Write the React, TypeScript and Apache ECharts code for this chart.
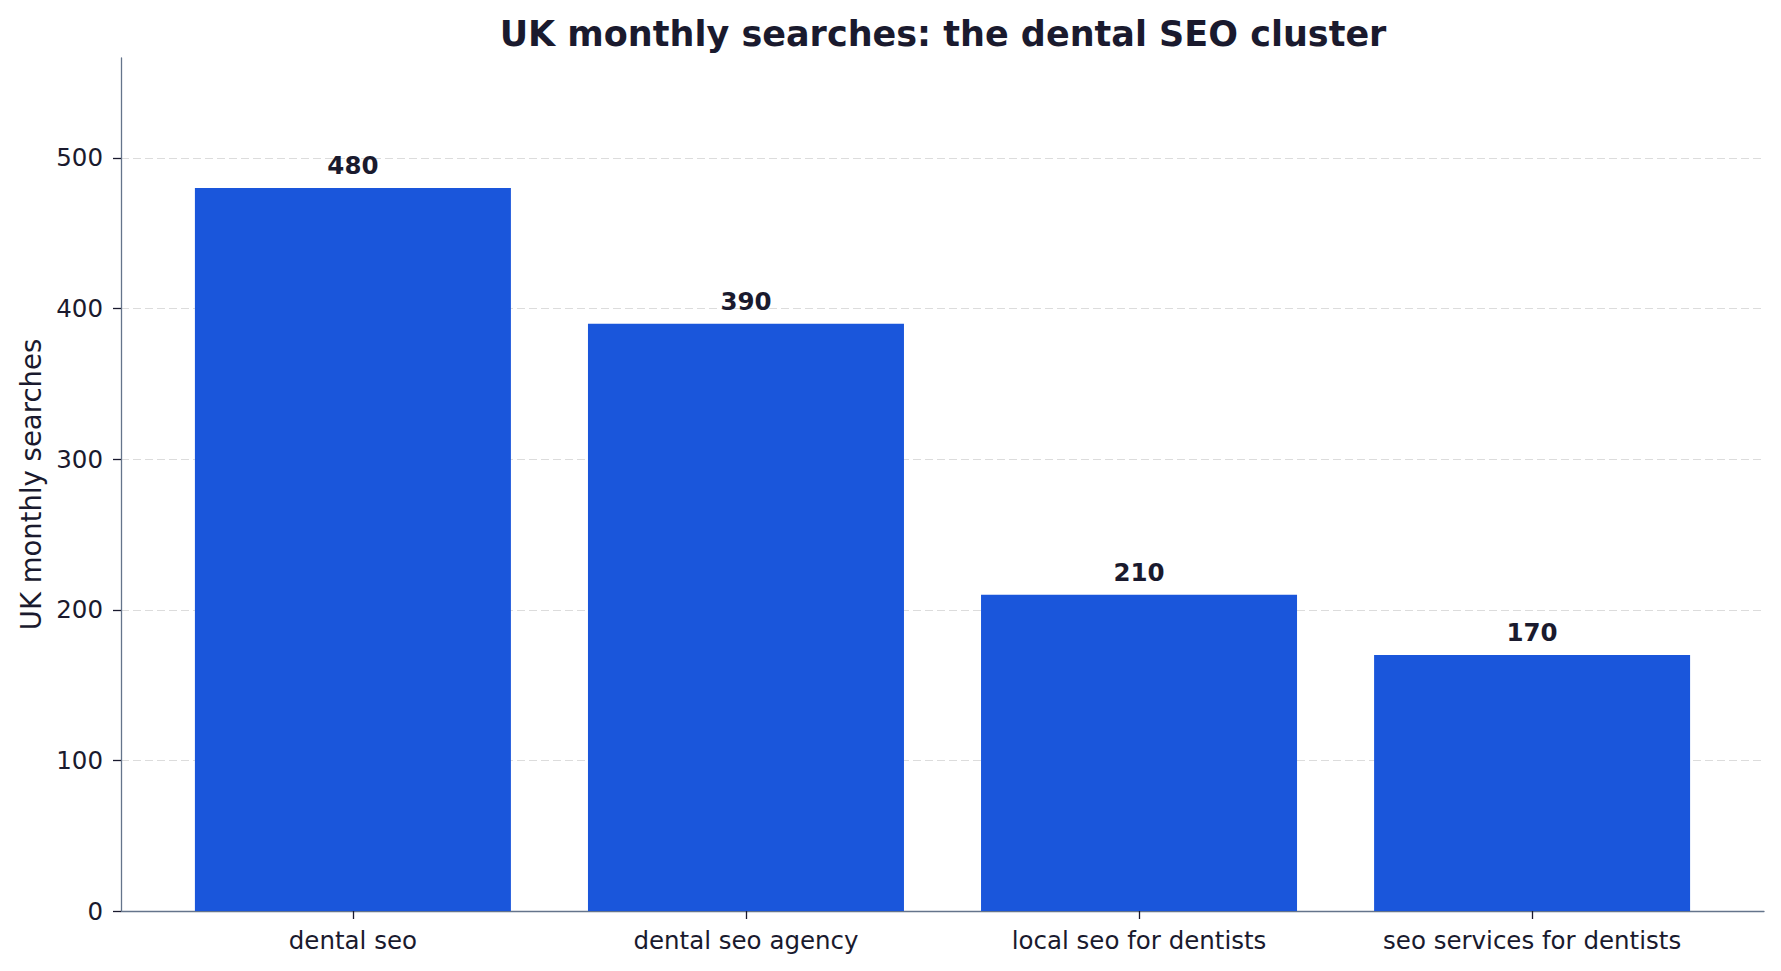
import React, { useEffect, useRef } from 'react';
import * as echarts from 'echarts';

// keyword cluster and UK monthly search volume
const keywords = ['dental seo', 'dental seo agency', 'local seo for dentists', 'seo services for dentists'];
const searches = [480, 390, 210, 170];
const yTicks = [0, 100, 200, 300, 400, 500];
const xPositions = [0, 1, 2, 3];

const TEXT = '#1a1a2e';
const SPINE = '#64748b';
const BAR = '#1a56db';
const FONT = 'DejaVu Sans';

const App: React.FC = () => {
  const chartRef = useRef<HTMLDivElement>(null);

  useEffect(() => {
    document.body.style.margin = '0';
    if (!chartRef.current) return;
    const chart = echarts.init(chartRef.current, undefined, { renderer: 'svg' });

    const option = {
      animation: false,
      backgroundColor: '#ffffff',
      textStyle: { fontFamily: FONT },
      graphic: [
        {
          type: 'text',
          x: 943,
          y: 34,
          style: {
            text: 'UK monthly searches: the dental SEO cluster',
            fill: TEXT,
            font: `bold 35px "${FONT}"`,
            textAlign: 'center',
            textVerticalAlign: 'middle'
          }
        }
      ],
      grid: { left: 121, right: 17, top: 58, bottom: 60 },
      xAxis: {
        type: 'value',
        min: -0.59,
        max: 3.59,
        splitLine: { show: false },
        axisLine: { show: true, onZero: false, lineStyle: { color: SPINE, width: 1.3 } },
        axisTick: { show: true, length: 8, customValues: xPositions, lineStyle: { color: TEXT, width: 1.3 } },
        axisLabel: {
          customValues: xPositions,
          margin: 17,
          color: TEXT,
          fontSize: 24.5,
          fontFamily: FONT,
          formatter: (v: number) => keywords[Math.round(v)] ?? ''
        }
      },
      yAxis: {
        type: 'value',
        min: 0,
        max: 566.4,
        interval: 100,
        name: 'UK monthly searches',
        nameLocation: 'middle',
        nameGap: 74,
        nameTextStyle: { color: TEXT, fontSize: 27.5, fontFamily: FONT },
        axisLine: { show: true, onZero: false, lineStyle: { color: SPINE, width: 1.3 } },
        axisTick: { show: true, length: 8, customValues: yTicks, lineStyle: { color: TEXT, width: 1.3 } },
        axisLabel: { customValues: yTicks, margin: 18, color: TEXT, fontSize: 24.5, fontFamily: FONT },
        splitLine: { show: true, lineStyle: { color: '#dcdcdc', width: 1.2, type: [8, 4] } }
      },
      series: [
        {
          type: 'bar',
          barWidth: 316,
          itemStyle: { color: BAR },
          label: {
            show: true,
            position: 'top',
            distance: 10,
            color: TEXT,
            fontWeight: 'bold',
            fontSize: 24.5,
            fontFamily: FONT
          },
          data: searches.map((v, i) => [xPositions[i], v])
        }
      ]
    };

    chart.setOption(option);
    return () => {
      chart.dispose();
    };
  }, []);

  return <div ref={chartRef} style={{ width: '1781px', height: '971px' }} />;
};

export default App;
